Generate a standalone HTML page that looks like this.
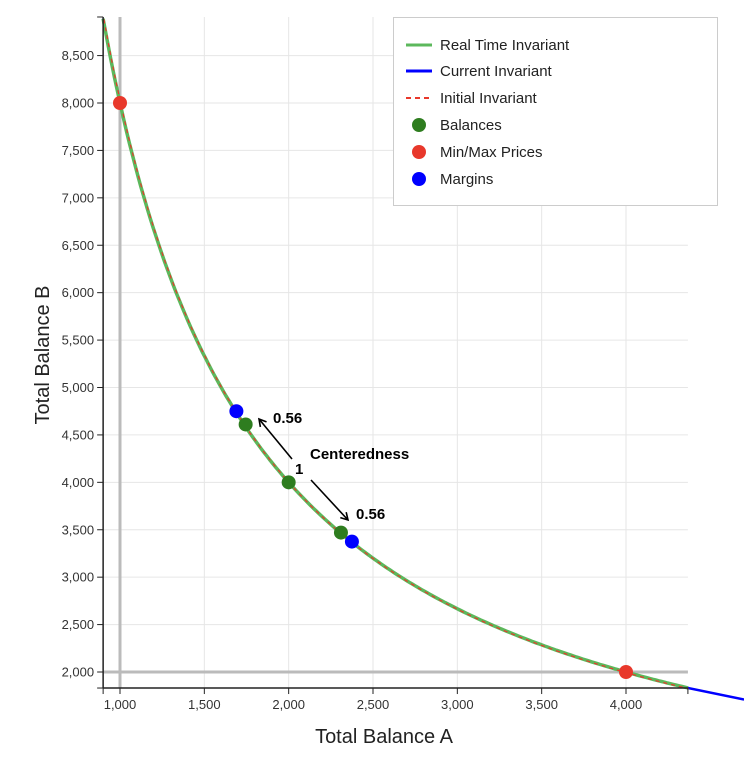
<!DOCTYPE html>
<html><head><meta charset="utf-8"><style>
body{margin:0;background:#fff;}
svg{display:block;font-family:"Liberation Sans",Arial,sans-serif;}
</style></head><body>
<svg id="chart" width="744" height="771">
<defs><marker id="ah" markerWidth="10" markerHeight="10" refX="8" refY="5" orient="auto" markerUnits="userSpaceOnUse"><path d="M1,1 L8,5 L1,9" fill="none" stroke="#000" stroke-width="1.6"/></marker></defs>
<g id="grid"></g>
<g id="plot"></g>
<g id="axes"></g>
<text x="384" y="743" text-anchor="middle" font-size="20" fill="#222">Total Balance A</text>
<text transform="translate(49,355) rotate(-90)" text-anchor="middle" font-size="20" fill="#222">Total Balance B</text>
<g font-weight="bold" font-size="15" fill="#000">
<line x1="292" y1="459" x2="259" y2="419" stroke="#000" stroke-width="1.6" marker-end="url(#ah)"/>
<line x1="311" y1="480" x2="348" y2="520" stroke="#000" stroke-width="1.6" marker-end="url(#ah)"/>
<text x="273" y="423">0.56</text>
<text x="310" y="459">Centeredness</text>
<text x="295" y="474">1</text>
<text x="356" y="519">0.56</text>
</g>
<g>
<rect x="393.5" y="17.5" width="324" height="188" fill="#fff" stroke="#ccc"/>
<line x1="406" y1="45" x2="432" y2="45" stroke="#5cb85c" stroke-width="3"/>
<text x="440" y="50" font-size="15" fill="#222">Real Time Invariant</text>
<line x1="406" y1="71" x2="432" y2="71" stroke="#0000ff" stroke-width="3"/>
<text x="440" y="76" font-size="15" fill="#222">Current Invariant</text>
<line x1="406" y1="98" x2="432" y2="98" stroke="#e8382b" stroke-width="2" stroke-dasharray="5,4"/>
<text x="440" y="103" font-size="15" fill="#222">Initial Invariant</text>
<circle cx="419" cy="125" r="7" fill="#2e7d1f"/>
<text x="440" y="130" font-size="15" fill="#222">Balances</text>
<circle cx="419" cy="152" r="7" fill="#e8382b"/>
<text x="440" y="157" font-size="15" fill="#222">Min/Max Prices</text>
<circle cx="419" cy="179" r="7" fill="#0000ff"/>
<text x="440" y="184" font-size="15" fill="#222">Margins</text>
</g>
</svg>
<script>
const invariantK = 8000000;
const xTicks = [1000,1500,2000,2500,3000,3500,4000];
const yTicks = [2000,2500,3000,3500,4000,4500,5000,5500,6000,6500,7000,7500,8000,8500];
const minMaxX = [1000,4000];
const minMaxY = [8000,2000];
const balanceX = [1745,2000,2310];
const balanceY = [4610,4000,3470];
const marginX = [1690,2375];
const marginY = [4750,3375];
const currentTailX = [4367,4700];
const currentTailY = [1832,1710];
const xMin=900, xMax=4367, yMin=1831, yMax=8907;
const sx = v => 120 + (v-1000)*(506/3000);
const sy = v => 672 - (v-2000)*(569/6000);
const NS="http://www.w3.org/2000/svg";
function mk(parent,tag,attrs){const e=document.createElementNS(NS,tag);for(const k in attrs)e.setAttribute(k,attrs[k]);document.getElementById(parent).appendChild(e);return e;}
const L=sx(xMin),R=sx(xMax),T=sy(yMax),B=sy(yMin);
xTicks.forEach(t=>{
 const g=mk('grid','line',{x1:sx(t),x2:sx(t),y1:T,y2:B,stroke:'#e6e6e6','stroke-width':1});
 
 
 const tk=mk('axes','line',{x1:sx(t),x2:sx(t),y1:B,y2:B+6,stroke:'#222'});
 
 
 const tx=mk('axes','text',{x:sx(t),y:B+21,'text-anchor':'middle','font-size':13,fill:'#333'});
 tx.textContent=t.toLocaleString('en-US');
 
 
});
yTicks.forEach(t=>{
 const g=mk('grid','line',{x1:L,x2:R,y1:sy(t),y2:sy(t),stroke:'#e6e6e6','stroke-width':1});
 
 
 const tk=mk('axes','line',{x1:L-6,x2:L,y1:sy(t),y2:sy(t),stroke:'#222'});
 
 
 const tx=mk('axes','text',{x:L-9,y:sy(t)+4.5,'text-anchor':'end','font-size':13,fill:'#333'});
 tx.textContent=t.toLocaleString('en-US');
 
 
});
[L,R].forEach(x=>{const e=mk('axes','line',{x1:x,x2:x,y1:B,y2:B+6,stroke:'#222'});
 
 });
[T,B].forEach(y=>{const e=mk('axes','line',{x1:L-6,x2:L,y1:y,y2:y,stroke:'#222'});
 
 });
const vl=mk('grid','line',{x1:sx(minMaxX[0]),x2:sx(minMaxX[0]),y1:T,y2:B,stroke:'#bbb','stroke-width':3});


const hl=mk('grid','line',{x1:L,x2:R,y1:sy(minMaxY[1]),y2:sy(minMaxY[1]),stroke:'#bbb','stroke-width':3});


const xa=mk('axes','line',{x1:L,x2:R,y1:B,y2:B,stroke:'#222','stroke-width':1.5});


const ya=mk('axes','line',{x1:L,x2:L,y1:T,y2:B,stroke:'#222','stroke-width':1.5});


let pts=[];
for(let i=0;i<=200;i++){const x=xMin+(xMax-xMin)*i/200;pts.push(sx(x).toFixed(1)+','+sy(invariantK/x).toFixed(1));}
const cur=mk('plot','polyline',{points:pts.join(' ')+' '+currentTailX.map((x,i)=>sx(x)+','+sy(currentTailY[i])).join(' '),fill:'none',stroke:'#0000ff','stroke-width':2.5});


const rt=mk('plot','polyline',{points:pts.join(' '),fill:'none',stroke:'#5cb85c','stroke-width':3.5});


const ini=mk('plot','polyline',{points:pts.join(' '),fill:'none',stroke:'#e8382b','stroke-width':1.2,'stroke-dasharray':'4,4',transform:'translate(0.8,0.8)'});


minMaxX.forEach((x,i)=>{const c=mk('plot','circle',{cx:sx(x),cy:sy(minMaxY[i]),r:7,fill:'#e8382b'});
 
 });
marginX.forEach((x,i)=>{const c=mk('plot','circle',{cx:sx(x),cy:sy(marginY[i]),r:7,fill:'#0000ff'});
 
 });
balanceX.forEach((x,i)=>{const c=mk('plot','circle',{cx:sx(x),cy:sy(balanceY[i]),r:7,fill:'#2e7d1f'});
 
 });
</script>
</body></html>
